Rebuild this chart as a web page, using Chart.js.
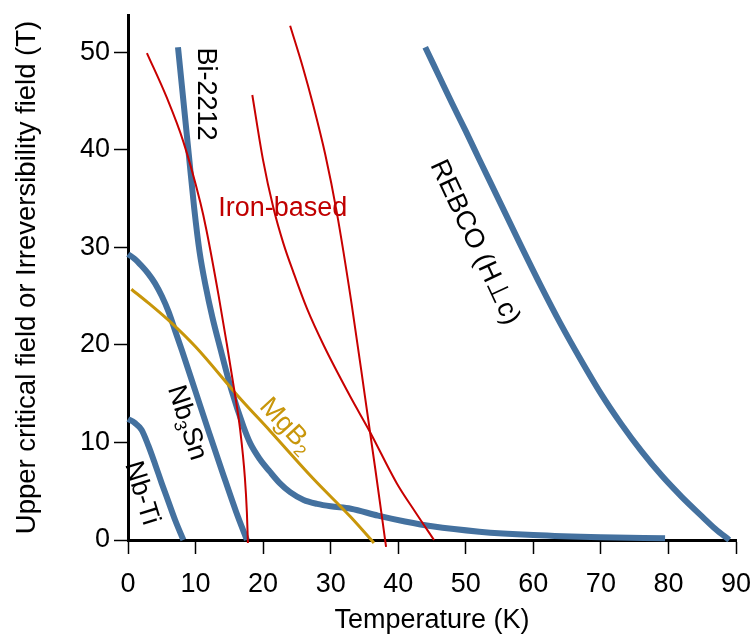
<!DOCTYPE html>
<html><head><meta charset="utf-8">
<script src="https://cdn.jsdelivr.net/npm/chart.js@4.4.1/dist/chart.umd.min.js"></script>
<style>html,body{margin:0;padding:0;background:#fff;}#wrap{width:752px;height:635px;}</style>
</head><body><div id="wrap"><canvas id="c" width="752" height="635"></canvas></div>
<script>
// ---- data (Temperature K, Field T) ----
const nbTi    = [[0,12.4],[1,12.0],[2,11.3],[3,9.7],[4,7.8],[5,5.8],[6,3.9],[7,2.0],[8.2,0]];
const nb3Sn   = [[0,29.3],[1,28.8],[2,28.1],[3,27.3],[4,26.3],[5,25.0],[6,23.4],[7,21.4],[8,19.4],[10,15.2],[12,11.0],[14,6.9],[16,2.9],[17.6,0]];
const bi2212  = [[7.4,50.5],[8.2,45],[9.0,39.5],[9.8,34],[10.6,29.5],[11.5,26],[12.5,22.8],[13.6,19.8],[15.3,15.4],[17.1,11.6],[18.1,9.9],[19.5,8.3],[21,7.0],[22.5,5.8],[24,4.9],[26,4.1],[28,3.7],[30,3.45],[33,3.2],[37,2.5],[41,1.9],[45,1.4],[52,0.85],[60,0.5],[70,0.27],[79.5,0.17]];
const rebco   = [[44,50.5],[46,47.6],[48,44.7],[50,41.9],[52,39],[55,34.7],[58,30.4],[61,26.2],[64,22.2],[67,18.5],[70,15.0],[73,11.9],[76,9.1],[79,6.6],[82,4.4],[85,2.4],[87,1.1],[89,0]];
const mgB2    = [[0.5,25.7],[3,24.3],[6.5,22.2],[10,19.8],[16.6,14.5],[21,11.2],[27.4,6.3],[32.9,2.4],[36.4,-0.3]];
const iron1   = [[2.8,49.9],[5.7,45.4],[8.2,40.8],[10.7,34.6],[11.6,31.8],[13.4,25.1],[14.6,20.2],[15.7,15.5],[16.6,11.3],[17.3,6.4],[17.6,2.8],[17.75,-0.3]];
const iron2   = [[18.4,45.6],[20,38.9],[21.5,34.1],[23,30.4],[24.5,27.4],[26.5,23.7],[29,19.9],[32.9,14.7],[35.8,11.1],[39.8,5.8],[42.5,2.9],[45.3,0]];
const iron3   = [[24,52.7],[25.9,48.4],[27.4,44.6],[29.2,39.5],[30.9,33.6],[33.1,24.2],[35.1,14.6],[36.6,7.3],[38.2,-0.7]];
const xTicks  = [0,10,20,30,40,50,60,70,80,90];
const yTicks  = [0,10,20,30,40,50];

// ---- text labels (placed in data coordinates) ----
const labels = [
  {parts:[['Bi-2212',0]], at:[11.4,45.7], angle:90, color:'#000'},
  {parts:[['Iron-based',0]], at:[22.9,34.0], angle:0, color:'#C00000'},
  {parts:[['REBCO (H\u22A5c)',0]], at:[51.3,30.5], angle:65, color:'#000'},
  {parts:[['MgB',0],['2',1]], at:[23.4,11.7], angle:47, color:'#C8960A'},
  {parts:[['Nb',0],['3',1],['Sn',0]], at:[8.7,12.0], angle:72, color:'#000'},
  {parts:[['Nb-Ti',0]], at:[2.0,4.8], angle:73, color:'#000'}
];

const BLUE='#44719F', RED='#C80000', GOLD='#C8960A';
const FONT="'Liberation Sans', Arial, sans-serif";
const pts = a => a.map(p=>({x:p[0],y:p[1]}));

const labelPlugin = {
  id:'labels',
  afterDatasetsDraw(chart){
    const ctx=chart.ctx, xs=chart.scales.x, ys=chart.scales.y;
    labels.forEach(l=>{
      const px=xs.getPixelForValue(l.at[0]), py=ys.getPixelForValue(l.at[1]);
      ctx.save();
      ctx.translate(px,py);
      ctx.rotate(l.angle*Math.PI/180);
      ctx.fillStyle=l.color;
      ctx.textBaseline='middle';
      ctx.textAlign='left';
      const big='27px '+FONT, small='17px '+FONT;
      let w=0;
      l.parts.forEach(p=>{ctx.font=p[1]?small:big; w+=ctx.measureText(p[0]).width;});
      let x=-w/2;
      l.parts.forEach(p=>{
        ctx.font=p[1]?small:big;
        ctx.fillText(p[0],x,p[1]?8:0);
        x+=ctx.measureText(p[0]).width;
      });
      ctx.restore();
    });
  }
};

const ds = (data,color,width,order)=>({data:pts(data),borderColor:color,borderWidth:width,pointRadius:0,
  fill:false,cubicInterpolationMode:'monotone',order:order,clip:false,borderCapStyle:'butt',borderJoinStyle:'round'});

new Chart(document.getElementById('c'),{
  type:'line',
  data:{datasets:[
    ds(iron1,RED,2,1), ds(iron2,RED,2,1), ds(iron3,RED,2,1),
    ds(mgB2,GOLD,3,2),
    ds(nbTi,BLUE,6,3), ds(nb3Sn,BLUE,6,3), ds(bi2212,BLUE,6,3), ds(rebco,BLUE,6,3)
  ]},
  options:{
    responsive:false, animation:false, devicePixelRatio:1,
    layout:{padding:{top:15,right:16,left:0,bottom:0}},
    plugins:{legend:{display:false},tooltip:{enabled:false}},
    scales:{
      x:{type:'linear',min:0,max:90,
        afterBuildTicks:s=>{s.ticks=xTicks.map(v=>({value:v}));},
        afterFit:s=>{s.height=95;s.paddingLeft=0;s.paddingRight=0;},
        ticks:{color:'#000',font:{family:FONT,size:27},padding:14,maxRotation:0},
        grid:{display:true,drawOnChartArea:false,drawTicks:true,tickLength:14,tickWidth:1.5,tickColor:'#000'},
        border:{display:true,color:'#000',width:3},
        title:{display:true,text:'Temperature (K)',color:'#000',font:{family:FONT,size:27,lineHeight:1},padding:{top:0,bottom:1}}
      },
      y:{type:'linear',min:0,max:53.8,
        afterBuildTicks:s=>{s.ticks=yTicks.map(v=>({value:v}));},
        afterFit:s=>{s.width=128;s.paddingTop=0;s.paddingBottom=0;},
        ticks:{color:'#000',font:{family:FONT,size:27},padding:4},
        grid:{display:true,drawOnChartArea:false,drawTicks:true,tickLength:14,tickWidth:1.5,tickColor:'#000'},
        border:{display:true,color:'#000',width:3},
        title:{display:true,text:'Upper critical field or Irreversibility field (T)',color:'#000',font:{family:FONT,size:27.5,lineHeight:1},padding:{top:14,bottom:0}}
      }
    }
  },
  plugins:[labelPlugin]
});
</script></body></html>
